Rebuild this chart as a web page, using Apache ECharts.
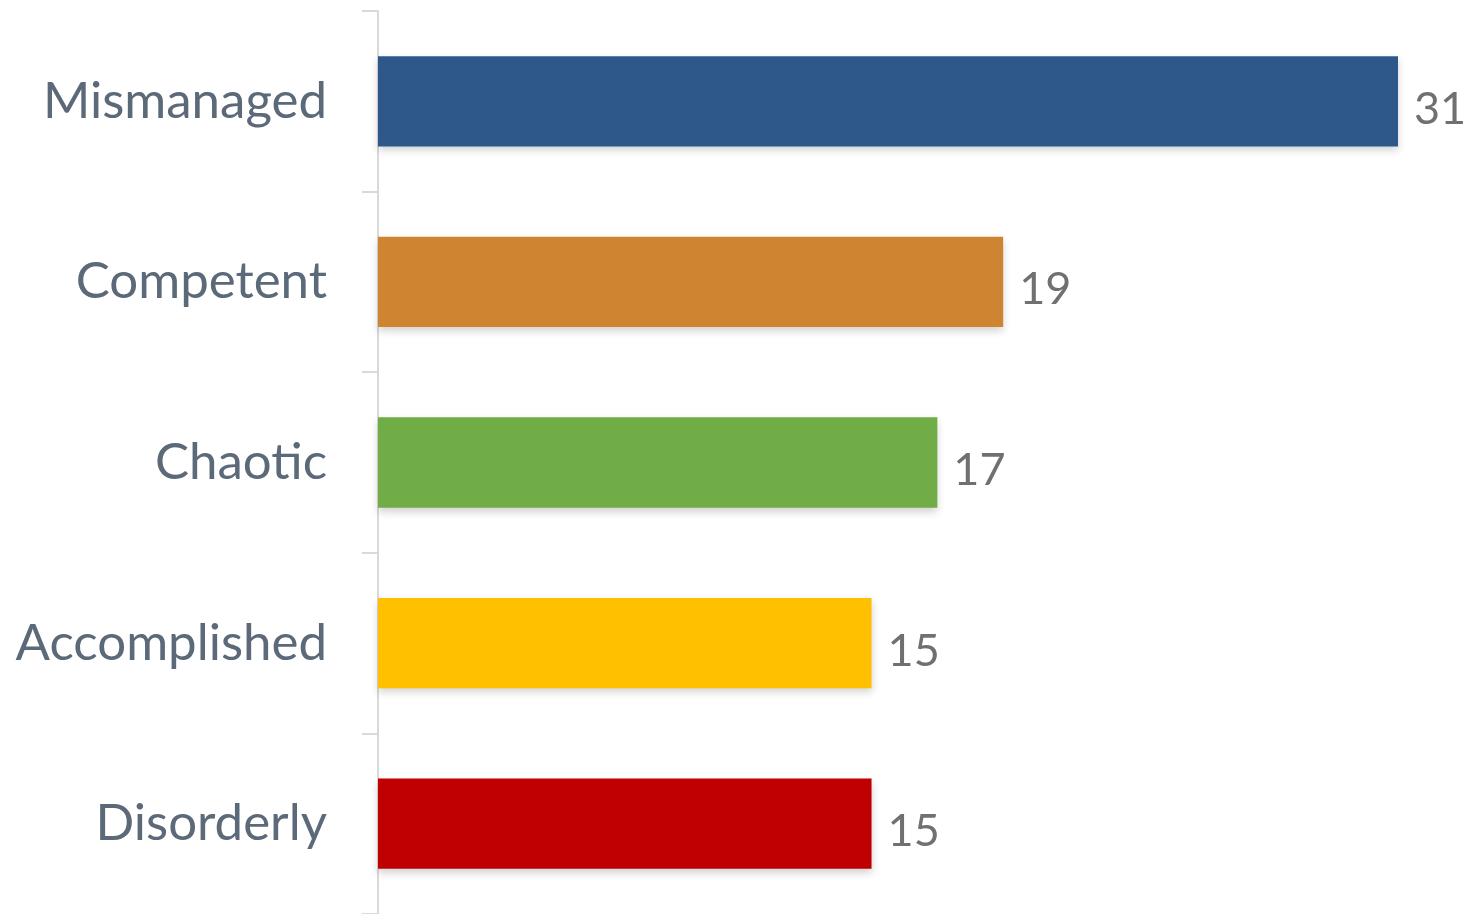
<!DOCTYPE html>
<html><head><meta charset="utf-8">
<script src="https://cdn.jsdelivr.net/npm/echarts@6/dist/echarts.min.js"></script>
<style>html,body{margin:0;padding:0;background:#fff}#c{width:1467px;height:914px}</style>
</head><body><div id="c"></div>
<script>
const categories = ["Mismanaged", "Competent", "Chaotic", "Accomplished", "Disorderly"];
const values = [31, 19, 17, 15, 15];
const barColors = ["#2E5889", "#CF8432", "#70AD47", "#FFC000", "#C00000"];

const chart = echarts.init(document.getElementById('c'));
chart.setOption({
  animation: false,
  grid: { left: 378, right: 69, top: 11, bottom: -2, containLabel: false },
  xAxis: { type: 'value', min: 0, max: 31, show: false },
  yAxis: {
    type: 'category', data: categories, inverse: true,
    axisLine: { show: true, lineStyle: { color: '#D9D9D9', width: 2 } },
    axisTick: { show: true, length: 16, lineStyle: { color: '#D9D9D9', width: 2 } },
    axisLabel: { margin: 51, color: '#5B6978', fontSize: 51, fontFamily: 'Lato' }
  },
  series: [{
    type: 'bar',
    data: values.map((v, i) => ({ value: v, itemStyle: { color: barColors[i] } })),
    barWidth: '50%',
    itemStyle: { shadowBlur: 8, shadowOffsetY: 4, shadowColor: 'rgba(0,0,0,0.18)' },
    label: { show: true, position: 'right', distance: 16, offset: [0, 8],
      color: '#707070', fontSize: 45, fontFamily: 'Lato' }
  }]
});
</script></body></html>
